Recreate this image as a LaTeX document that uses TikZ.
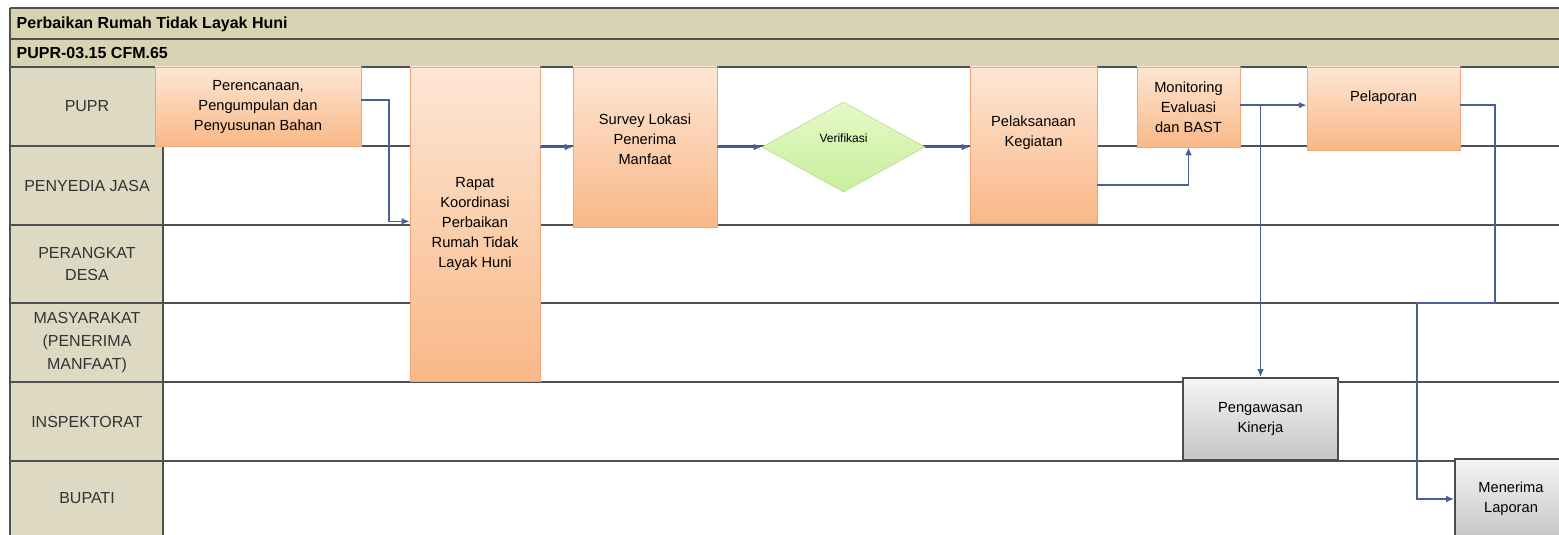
\documentclass[tikz,border=0pt]{standalone}
\usepackage{fontspec}
\setmainfont{Liberation Sans}
\usetikzlibrary{shapes.geometric,arrows.meta}

\definecolor{headfill}{HTML}{D8D3B3}
\definecolor{lanefill}{HTML}{DDD9C3}
\definecolor{gridline}{HTML}{505050}
\definecolor{proctop}{HTML}{FDE6D4}
\definecolor{procbot}{HTML}{F9B887}
\definecolor{procline}{HTML}{EFA77A}
\definecolor{flowblue}{HTML}{4A5F9A}
\definecolor{dectop}{HTML}{E6F9C8}
\definecolor{decbot}{HTML}{C8EE9C}
\definecolor{decline}{HTML}{B3D98A}

\newcommand{\procfont}{\fontsize{11}{15}\selectfont}
\newcommand{\lanefont}{\fontsize{12}{17}\selectfont}

\tikzset{
  proc/.style = {draw=procline, top color=proctop, bottom color=procbot, inner sep=2pt, align=center, font=\procfont},
  gbox/.style = {draw=gray!60!black, line width=1.2pt, top color=gray!8, bottom color=gray!45, inner sep=2pt, align=center, font=\procfont},
  dec/.style = {diamond, draw=decline, top color=dectop, bottom color=decbot, inner sep=0pt},
  txt/.style = {align=center, font=\procfont},
  lanelbl/.style = {align=center, font=\lanefont, text=black!80},
  head/.style = {anchor=west, font=\bfseries\fontsize{12}{14}\selectfont},
  laneline/.style = {draw=gridline, line width=1.4pt},
  flow/.style = {draw=flowblue, line width=1.2pt, -{Latex[length=6pt,width=5pt]}}
}

\begin{document}
\begin{tikzpicture}[x=0.75pt, y=-0.75pt]
\useasboundingbox (0,0) rectangle (1559,535);

% header and lane column
\fill[headfill] (10,8) rectangle (1559,67);
\fill[lanefill] (10,67) rectangle (163,535);
\draw[laneline, line width=1.8pt] (10,8) -- (1559,8);
\draw[laneline] (10,39) -- (1559,39);
\draw[laneline] (10,67) -- (1559,67);
\foreach \y in {146,225,303,382,461}
  \draw[laneline] (10,\y) -- (1559,\y);
\draw[laneline] (10,8) -- (10,535);
\draw[laneline] (163,67) -- (163,535);

\node[head] (title) at (12,24) {Perbaikan Rumah Tidak Layak Huni};
\node[head] (code) at (12,53) {PUPR-03.15 CFM.65};

% lanes
\node[lanelbl] (l-pupr) at (87,106.5) {PUPR};
\node[lanelbl] (l-jasa) at (87,185.5) {PENYEDIA JASA};
\node[lanelbl] (l-desa) at (87,264) {PERANGKAT\\DESA};
\node[lanelbl] (l-mas) at (87,342.5) {MASYARAKAT\\(PENERIMA\\MANFAAT)};
\node[lanelbl] (l-insp) at (87,421.5) {INSPEKTORAT};
\node[lanelbl] (l-bup) at (87,498) {BUPATI};

% steps
\node[proc, minimum width=154.5pt, minimum height=59.25pt] (plan) at (258,106.5) {Perencanaan,\\Pengumpulan dan\\Penyusunan Bahan};
\node[proc, minimum width=97.5pt, minimum height=235.5pt] (rapat) at (475,224) {Rapat\\Koordinasi\\Perbaikan\\Rumah Tidak\\Layak Huni};
\node[proc, minimum width=108pt, minimum height=120pt,
      label={[txt, name=survey-t, yshift=6pt]center:{Survey Lokasi\\Penerima\\Manfaat}}] (survey) at (645,147) {};
\node[dec, minimum width=122.25pt, minimum height=67.5pt,
      label={[name=verif-t, font=\fontsize{9}{11}\selectfont, yshift=6.75pt]center:Verifikasi}] (verif) at (843.5,147) {};
\node[proc, minimum width=95.25pt, minimum height=117pt,
      label={[txt, name=pel-t, yshift=9pt]center:{Pelaksanaan\\Kegiatan}}] (pel) at (1033.5,145) {};
\node[proc, minimum width=77.25pt, minimum height=60pt] (mon) at (1188.5,107) {Monitoring\\Evaluasi\\dan BAST};
\node[proc, minimum width=114.75pt, minimum height=62.25pt,
      label={[txt, name=lap-t, yshift=8.25pt]center:Pelaporan}] (lap) at (1383.5,108.5) {};
\node[gbox, minimum width=116.25pt, minimum height=61.5pt] (awas) at (1260.5,419) {Pengawasan\\Kinerja};
\node[gbox, minimum width=84pt, minimum height=60pt] (terima) at (1511,499) {Menerima\\Laporan};

% connectors
\coordinate (lapin) at ([yshift=2.5pt]lap.west);
\draw[flow] ([yshift=5pt]plan.east) -- ++(28,0) |- ([yshift=2pt]rapat.west);
\path (survey.west -| rapat.east) edge[flow] (survey.west)
      (survey) edge[flow] (verif)
      (verif) edge[flow] (verif.east -| pel.west);
\draw[flow] ([yshift=28.5pt]pel.south east) -| (mon.south);
\path (lapin -| mon.east) edge[flow] (lapin);
\draw[flow] (lapin -| awas.north) -- (awas.north);
\draw[flow] ([yshift=2.5pt]lap.east) -- ++(35,0) -- ++(0,198) -- ++(-78,0) |- (terima.west);
\end{tikzpicture}
\end{document}
